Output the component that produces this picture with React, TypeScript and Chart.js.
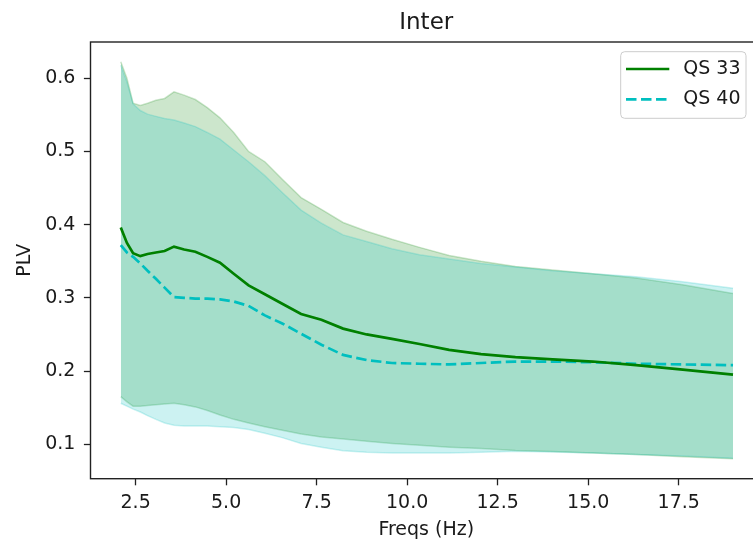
import React, { useEffect, useRef } from "react";
import { Chart, registerables } from "chart.js";

Chart.register(...registerables);

// Frequencies (Hz), log spaced
const freqs = [
  2.09, 2.26, 2.43, 2.63, 2.83, 3.06, 3.3, 3.56, 3.84, 4.15, 4.48, 4.83, 5.21, 5.62, 6.07,
  6.55, 7.07, 7.63, 8.23, 8.88, 9.58, 10.34, 11.16, 12.04, 12.99, 14.02, 15.13, 16.32, 17.61, 19.0,
];

// QS 33: mean PLV and spread band
const qs33Mean = [
  0.396, 0.375, 0.361, 0.357, 0.36, 0.362, 0.364, 0.37, 0.366, 0.363, 0.356, 0.348, 0.333, 0.317, 0.305,
  0.292, 0.278, 0.27, 0.258, 0.25, 0.244, 0.237, 0.229, 0.223, 0.219, 0.216, 0.213, 0.208, 0.202, 0.195,
];
const qs33Upper = [
  0.6225, 0.6, 0.566, 0.563, 0.566, 0.57, 0.5725, 0.5816, 0.577, 0.571, 0.56, 0.546, 0.526, 0.5, 0.486,
  0.462, 0.437, 0.421, 0.403, 0.391, 0.38, 0.369, 0.358, 0.35, 0.343, 0.338, 0.333, 0.327, 0.318, 0.306,
];
const qs33Lower = [
  0.165, 0.158, 0.152, 0.152, 0.153, 0.154, 0.155, 0.156, 0.154, 0.151, 0.146, 0.14, 0.134, 0.129, 0.124,
  0.119, 0.114, 0.11, 0.107, 0.104, 0.101, 0.0985, 0.096, 0.094, 0.0915, 0.09, 0.088, 0.086, 0.083, 0.08,
];

// QS 40: mean PLV and spread band
const qs40Mean = [
  0.372, 0.362, 0.356, 0.347, 0.337, 0.326, 0.314, 0.301, 0.3, 0.299, 0.299, 0.298, 0.295, 0.289, 0.276,
  0.265, 0.251, 0.236, 0.222, 0.215, 0.211, 0.21, 0.209, 0.211, 0.213, 0.213, 0.212, 0.21, 0.209, 0.208,
];
const qs40Upper = [
  0.618, 0.595, 0.565, 0.556, 0.551, 0.548, 0.545, 0.543, 0.539, 0.534, 0.526, 0.517, 0.502, 0.486, 0.467,
  0.444, 0.42, 0.402, 0.386, 0.377, 0.367, 0.359, 0.353, 0.347, 0.342, 0.337, 0.333, 0.329, 0.322, 0.313,
];
const qs40Lower = [
  0.156, 0.152, 0.148, 0.144, 0.139, 0.134, 0.129, 0.126, 0.125, 0.125, 0.125, 0.124, 0.123, 0.12, 0.115,
  0.109, 0.101, 0.096, 0.091, 0.089, 0.088, 0.088, 0.088, 0.089, 0.0905, 0.0895, 0.088, 0.086, 0.084, 0.081,
];

const xTicks = [2.5, 5.0, 7.5, 10.0, 12.5, 15.0, 17.5];
const yTicks = [0.1, 0.2, 0.3, 0.4, 0.5, 0.6];
const xLimits = [1.254, 19.8];
const yLimits = [0.0529, 0.6496];

const seriesNames = ["QS 33", "QS 40"];
const GREEN = "#008000";
const CYAN = "#00bfbf";
const GREEN_FILL = "rgba(0,128,0,0.2)";
const CYAN_FILL = "rgba(0,191,191,0.2)";
const DASH = [10.5, 4.5];
const FONT = "'DejaVu Sans', 'Liberation Sans', sans-serif";
const TEXT = "#1a1a1a";

const pts = (ys: number[]) => freqs.map((f, i) => ({ x: f, y: ys[i] }));

// Full axes frame (all four spines)
const framePlugin = {
  id: "frame",
  afterDraw(chart: any) {
    const { ctx, chartArea: a } = chart;
    ctx.save();
    ctx.strokeStyle = "#222";
    ctx.lineWidth = 1.4;
    ctx.strokeRect(a.left, a.top, a.right - a.left, a.bottom - a.top);
    ctx.restore();
  },
};

// Boxed legend in the upper right of the plot area
const legendPlugin = {
  id: "boxLegend",
  afterDraw(chart: any) {
    const { ctx, chartArea: a } = chart;
    const w = 125.3;
    const h = 66.6;
    const right = a.right - 16;
    const left = right - w;
    const top = a.top + 9.7;
    const r = 4;
    ctx.save();
    ctx.beginPath();
    ctx.moveTo(left + r, top);
    ctx.lineTo(left + w - r, top);
    ctx.quadraticCurveTo(left + w, top, left + w, top + r);
    ctx.lineTo(left + w, top + h - r);
    ctx.quadraticCurveTo(left + w, top + h, left + w - r, top + h);
    ctx.lineTo(left + r, top + h);
    ctx.quadraticCurveTo(left, top + h, left, top + h - r);
    ctx.lineTo(left, top + r);
    ctx.quadraticCurveTo(left, top, left + r, top);
    ctx.closePath();
    ctx.fillStyle = "rgba(255,255,255,0.8)";
    ctx.fill();
    ctx.strokeStyle = "#cccccc";
    ctx.lineWidth = 1;
    ctx.stroke();

    const rows = [
      { label: seriesNames[0], color: GREEN, dash: [] as number[] },
      { label: seriesNames[1], color: CYAN, dash: DASH },
    ];
    rows.forEach((row, i) => {
      const y = top + 17.3 + i * 30.3;
      ctx.beginPath();
      ctx.setLineDash(row.dash);
      ctx.strokeStyle = row.color;
      ctx.lineWidth = 2.7;
      ctx.moveTo(left + 5.3, y);
      ctx.lineTo(left + 48.6, y);
      ctx.stroke();
      ctx.setLineDash([]);
      ctx.fillStyle = TEXT;
      ctx.font = `19px ${FONT}`;
      ctx.textAlign = "left";
      ctx.textBaseline = "middle";
      ctx.fillText(row.label, left + 62.6, y);
    });
    ctx.restore();
  },
};

const bandEdge = (fill: string) => ({
  borderColor: fill,
  borderWidth: 1.5,
  pointRadius: 0,
  tension: 0,
});

export default function App() {
  const canvasRef = useRef<HTMLCanvasElement | null>(null);

  useEffect(() => {
    if (!canvasRef.current) return;
    const chart = new Chart(canvasRef.current, {
      type: "line",
      data: {
        datasets: [
          {
            label: seriesNames[0],
            data: pts(qs33Mean),
            borderColor: GREEN,
            borderWidth: 2.7,
            pointRadius: 0,
            tension: 0,
            fill: false,
          },
          {
            label: seriesNames[1],
            data: pts(qs40Mean),
            borderColor: CYAN,
            borderWidth: 2.7,
            borderDash: DASH,
            pointRadius: 0,
            tension: 0,
            fill: false,
          },
          { label: "QS 40 upper", data: pts(qs40Upper), ...bandEdge(CYAN_FILL), fill: false },
          { label: "QS 40 lower", data: pts(qs40Lower), ...bandEdge(CYAN_FILL), fill: "-1", backgroundColor: CYAN_FILL },
          { label: "QS 33 upper", data: pts(qs33Upper), ...bandEdge(GREEN_FILL), fill: false },
          { label: "QS 33 lower", data: pts(qs33Lower), ...bandEdge(GREEN_FILL), fill: "-1", backgroundColor: GREEN_FILL },
        ],
      },
      options: {
        responsive: false,
        animation: false,
        devicePixelRatio: 1,
        layout: { padding: { left: 0, right: 13, top: 0, bottom: 0 } },
        plugins: {
          legend: { display: false },
          tooltip: { enabled: false },
          title: {
            display: true,
            text: "Inter",
            fullSize: false,
            color: TEXT,
            font: { family: FONT, size: 23, weight: "normal" },
            padding: { top: 8.8, bottom: 5.6 },
          },
        },
        scales: {
          x: {
            type: "linear",
            min: xLimits[0],
            max: xLimits[1],
            afterBuildTicks: (scale: any) => {
              scale.ticks = xTicks.map((value) => ({ value }));
            },
            afterFit: (scale: any) => {
              scale.height = 66.3;
            },
            grid: {
              display: true,
              drawOnChartArea: false,
              drawTicks: true,
              tickLength: 6.6,
              tickWidth: 1.3,
              tickColor: "#222",
            },
            border: { display: false },
            ticks: {
              autoSkip: false,
              maxRotation: 0,
              padding: 6.5,
              color: TEXT,
              font: { family: FONT, size: 19 },
              callback: (v: any) => Number(v).toFixed(1),
            },
            title: {
              display: true,
              text: "Freqs (Hz)",
              color: TEXT,
              font: { family: FONT, size: 19 },
              padding: { top: 0, bottom: 3.7 },
            },
          },
          y: {
            type: "linear",
            min: yLimits[0],
            max: yLimits[1],
            afterBuildTicks: (scale: any) => {
              scale.ticks = yTicks.map((value) => ({ value }));
            },
            afterFit: (scale: any) => {
              scale.width = 90.5;
            },
            grid: {
              display: true,
              drawOnChartArea: false,
              drawTicks: true,
              tickLength: 6.6,
              tickWidth: 1.3,
              tickColor: "#222",
            },
            border: { display: false },
            ticks: {
              padding: 8.5,
              color: TEXT,
              font: { family: FONT, size: 19 },
              callback: (v: any) => Number(v).toFixed(1),
            },
            title: {
              display: true,
              text: "PLV",
              color: TEXT,
              font: { family: FONT, size: 19 },
              padding: { top: 14, bottom: 0 },
            },
          },
        },
      },
      plugins: [framePlugin, legendPlugin],
    });
    return () => chart.destroy();
  }, []);

  return (
    <div
      style={{
        position: "absolute",
        left: 0,
        top: 0,
        width: 753,
        height: 545,
        overflow: "hidden",
        background: "#fff",
      }}
    >
      <canvas ref={canvasRef} width={775} height={545} style={{ display: "block" }} />
    </div>
  );
}
